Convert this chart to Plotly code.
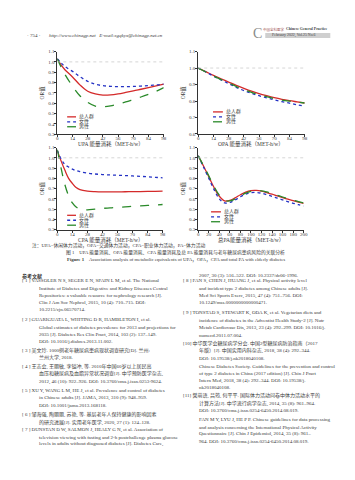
import plotly.graph_objects as go

# ---------------- data ----------------
series_names = ["总人群", "女性", "男性"]
series_colors = ["#d42a2a", "#2432c4", "#2a8a2a"]
series_dash = ["solid", "dot", "dash"]

upa_x = [0, 3.5, 7, 14, 21, 28, 35, 42, 49, 56, 63, 70, 77, 84, 91, 98]
upa_all = [1.03, 0.97, 0.924, 0.854, 0.775, 0.716, 0.69, 0.678, 0.68, 0.69, 0.704, 0.719, 0.735, 0.751, 0.768, 0.785]
upa_female = [1.03, 0.99, 0.956, 0.908, 0.855, 0.812, 0.783, 0.77, 0.763, 0.76, 0.76, 0.762, 0.766, 0.771, 0.777, 0.785]
upa_male = [1.03, 0.95, 0.88, 0.765, 0.67, 0.608, 0.572, 0.566, 0.575, 0.592, 0.612, 0.636, 0.66, 0.686, 0.714, 0.75]

opa_x = [0, 7, 14, 21, 28, 35, 42, 49, 56, 63, 70, 77, 84, 91, 98]
opa_all = [1.0, 0.978, 0.955, 0.935, 0.915, 0.895, 0.877, 0.86, 0.845, 0.832, 0.82, 0.81, 0.802, 0.795, 0.788]
opa_female = [1.0, 0.976, 0.951, 0.928, 0.906, 0.883, 0.863, 0.847, 0.832, 0.819, 0.807, 0.796, 0.787, 0.777, 0.768]
opa_male = [1.0, 0.976, 0.952, 0.93, 0.91, 0.888, 0.868, 0.852, 0.838, 0.826, 0.815, 0.806, 0.799, 0.793, 0.788]

cpa_x = [0, 3.5, 7, 10.5, 14, 17.5, 21, 28, 35, 42, 49, 56, 63, 70, 77, 84, 91, 98]
cpa_all = [1.07, 0.97, 0.88, 0.8, 0.75, 0.71, 0.69, 0.675, 0.67, 0.668, 0.668, 0.668, 0.669, 0.67, 0.671, 0.672, 0.673, 0.675]
cpa_female = [1.07, 0.99, 0.935, 0.91, 0.89, 0.875, 0.865, 0.85, 0.842, 0.837, 0.833, 0.83, 0.827, 0.823, 0.819, 0.815, 0.81, 0.805]
cpa_male = [1.08, 0.9, 0.74, 0.63, 0.56, 0.52, 0.5, 0.493, 0.5, 0.507, 0.512, 0.517, 0.522, 0.527, 0.532, 0.536, 0.54, 0.545]

tpa_x = [0, 10, 20, 30, 40, 50, 60, 70, 80, 90, 100, 110, 120, 130, 140, 150, 160, 170, 180, 190, 200]
tpa_all = [1.02, 0.92, 0.815, 0.71, 0.625, 0.58, 0.585, 0.61, 0.64, 0.665, 0.68, 0.682, 0.675, 0.66, 0.645, 0.628, 0.612, 0.597, 0.582, 0.568, 0.555]
tpa_female = [1.02, 0.91, 0.8, 0.69, 0.6, 0.56, 0.565, 0.59, 0.62, 0.645, 0.66, 0.662, 0.655, 0.64, 0.625, 0.607, 0.59, 0.573, 0.557, 0.543, 0.53]
tpa_male = [1.02, 0.925, 0.825, 0.72, 0.635, 0.585, 0.58, 0.6, 0.628, 0.655, 0.672, 0.68, 0.678, 0.667, 0.652, 0.635, 0.618, 0.602, 0.587, 0.572, 0.56]

x_titles = ["UPA 能量消耗（MET-h/w）", "OPA 能量消耗（MET-h/w）", "CPA 能量消耗（MET-h/w）", "总PA能量消耗（MET-h/w）"]
y_title = "OR值"
x_ticks_98 = [0, 14, 28, 42, 56, 70, 84, 98]
x_ticks_200 = [0, 20, 40, 60, 80, 100, 120, 140, 160, 180, 200]

panels = [
    (upa_x, [upa_all, upa_female, upa_male], x_ticks_98, [0, 98], [0.3, 1.1]),
    (opa_x, [opa_all, opa_female, opa_male], x_ticks_98, [0, 98], [0.6, 1.1]),
    (cpa_x, [cpa_all, cpa_female, cpa_male], x_ticks_98, [0, 98], [0.3, 1.1]),
    (tpa_x, [tpa_all, tpa_female, tpa_male], x_ticks_200, [0, 200], [0.3, 1.1]),
]

header_left = "· 754 ·"
header_url = "http://www.chinagp.net   E-mail:zgqkyx@chinagp.net.cn"
note_text = "注：UPA=休闲体力活动，OPA=交通体力活动，CPA=职业体力活动，PA=体力活动"
caption_cn = "图 1　UPA 能量消耗、OPA 能量消耗、CPA 能量消耗及总 PA 能量消耗与老年糖尿病患病风险的关联分析"
caption_en = "<b>Figure 1</b>　Association analysis of metabolic equivalents of UPA，OPA，CPA and total PA with elderly diabetes"

refs_left = [
    ("<b>参考文献</b>", 20),
    ("[ 1 ] VASSOLER N S, SEGER E N, SPAIN L M, et al. The National", 20),
    ("Institute of Diabetes and Digestive and Kidney Diseases Central", 37),
    ("Repositories: a valuable resource for nephrology research [J].", 37),
    ("Clin J Am Soc Nephrol, 2015, 10 (4): 710–715. DOI:", 37),
    ("10.2215/cjn.06570714.", 37),
    ("[ 2 ] GUARIGUATA L, WHITING D R, HAMBLETON I, et al.", 20),
    ("Global estimates of diabetes prevalence for 2013 and projections for", 37),
    ("2035 [J]. Diabetes Res Clin Pract, 2014, 103 (2): 137–149.", 37),
    ("DOI: 10.1016/j.diabres.2013.11.002.", 37),
    ("[ 3 ] 吴文玲. 1000例老年糖尿病患病现状调查研究[D]. 兰州:", 20),
    ("兰州大学, 2018.", 37),
    ("[ 4 ] 王志会, 王丽敏, 李镒冲, 等. 2010年中国60岁以上居民高", 20),
    ("血压和糖尿病及血脂异常状况调查[J]. 中华预防医学杂志,", 37),
    ("2012, 46 (10): 922–926. DOI: 10.3760/cma.j.issn.0253-9624.", 37),
    ("[ 5 ] XU Y, WANG L M, HE J, et al. Prevalence and control of diabetes", 20),
    ("in Chinese adults [J]. JAMA, 2013, 310 (9): 948–959.", 37),
    ("DOI: 10.1001/jama.2013.168118.", 37),
    ("[ 6 ] 邹海强, 陶丽丽, 苏艳, 等. 基层老年人保持健康的影响因素", 20),
    ("的研究进展[J]. 实用老年医学, 2020, 27 (1): 124–128.", 37),
    ("[ 7 ] DUNSTAN D W, SALMON J, HEALY G N, et al. Association of", 20),
    ("television viewing with fasting and 2-h postchallenge plasma glucose", 37),
    ("levels in adults without diagnosed diabetes [J]. Diabetes Care,", 37),
]
refs_left_y = [277, 282, 289.5, 297, 304, 311, 321, 328.5, 336, 343.5, 352, 359.5,
               368, 375.5, 383.5, 393, 400.5, 408, 417, 424.5, 433, 440, 447]

refs_right = [
    ("2007, 30 (3): 516–522. DOI: 10.2337/dc06-1996.", 200),
    ("[ 8 ] FAN S, CHEN J, HUANG J, et al. Physical activity level", 184),
    ("and incident type 2 diabetes among Chinese adults [J].", 200),
    ("Med Sci Sports Exerc, 2015, 47 (4): 751–756. DOI:", 200),
    ("10.1249/mss.0000000000000471.", 200),
    ("[ 9 ] TONSTAD S, STEWART K, ODA K, et al. Vegetarian diets and", 184),
    ("incidence of diabetes in the Adventist Health Study-2 [J]. Nutr", 200),
    ("Metab Cardiovasc Dis, 2013, 23 (4): 292–299. DOI: 10.1016/j.", 200),
    ("numecd.2011.07.004.", 200),
    ("[10] 中华医学会糖尿病学分会. 中国2型糖尿病防治指南（2017", 184),
    ("年版）[J]. 中国实用内科杂志, 2018, 38 (4): 292–344.", 200),
    ("DOI: 10.19538/j.nk2018040108.", 200),
    ("Chinese Diabetes Society. Guidelines for the prevention and control", 200),
    ("of type 2 diabetes in China (2017 edition) [J]. Chin J Pract", 200),
    ("Intern Med, 2018, 38 (4): 292–344. DOI: 10.19538/j.", 200),
    ("nk2018040108.", 200),
    ("[11] 樊萌语, 吕筠, 何平平. 国际体力活动问卷中体力活动水平的", 184),
    ("计算方法[J]. 中华流行病学杂志, 2014, 35 (8): 961–964.", 200),
    ("DOI: 10.3760/cma.j.issn.0254-6450.2014.08.019.", 200),
    ("FAN M Y, LYU J, HE P P. Chinese guidelines for data processing", 200),
    ("and analysis concerning the International Physical Activity", 200),
    ("Questionnaire [J]. Chin J Epidemiol, 2014, 35 (8): 961–", 200),
    ("964. DOI: 10.3760/cma.j.issn.0254-6450.2014.08.019.", 200),
]
refs_right_y = [277, 282, 289.5, 297, 304, 314, 321.5, 329, 336.5, 345, 352.5, 360,
                368, 375.5, 383, 390, 398, 405.5, 413, 422, 429.5, 437, 444]

# ---------------- layout helpers ----------------
# the page body adds an 8px margin, so the figure is 8px smaller and all
# page-pixel positions below are shifted by that offset
OFF = 8
W, H = 355 - OFF, 480 - OFF
FONT = "Liberation Serif, Noto Sans CJK SC, serif"
TXT = "#3a3a3a"


def px(x):
    return (x - OFF) / W


def py(y):
    return 1 - (y - OFF) / H


# page-pixel boxes of the four plot areas: (left, right, top, bottom)
boxes = [(57, 165, 50, 133.5), (200, 308, 50, 133.3), (57, 164, 147, 230), (200, 307, 147, 230)]
xtitle_y = [143, 143, 240.5, 240.5]
legend_pos = [  # (line x0, line x1, text x, row y's) in page pixels
    (67, 76, 78, [116, 121, 126]),
    (215, 225, 227, [111, 116, 121]),
    (67, 76, 78, [215.5, 220.5, 225.5]),
    (213, 223, 225, [212, 217, 222]),
]

fig = go.Figure()
shapes = []
annotations = []


def add_text(text, x, y, size=5, anchor="left", color=TXT, family=FONT):
    annotations.append(dict(text=text, x=px(x), y=py(y), xref="paper", yref="paper",
                            xanchor=anchor, yanchor="middle", showarrow=False, borderpad=0,
                            font=dict(family=family, size=size, color=color)))


for i, (xs, ys_list, xticks, xr, yr) in enumerate(panels):
    k = "" if i == 0 else str(i + 1)
    for name, ys, col, dash in zip(series_names, ys_list, series_colors, series_dash):
        fig.add_trace(go.Scatter(
            x=xs, y=ys, mode="lines", name=name, showlegend=False,
            line=dict(color=col, width=1.3, dash=dash, shape="spline", smoothing=1.0),
            xaxis="x" + k, yaxis="y" + k,
        ))
    l, r, t, b = boxes[i]
    axis_common = dict(
        showline=True, linecolor="#333", linewidth=0.8, ticks="outside", ticklen=2,
        tickwidth=0.7, tickcolor="#333", showgrid=False, zeroline=False,
        tickfont=dict(family=FONT, size=5, color=TXT),
    )
    fig.layout["xaxis" + k] = dict(
        domain=[px(l), px(r)], range=xr, tickvals=xticks, anchor="y" + k,
        ticklabelstandoff=-3, **axis_common,
    )
    ytickvals = [round(yr[0] + 0.1 * j, 1) for j in range(int(round((yr[1] - yr[0]) / 0.1)) + 1)]
    fig.layout["yaxis" + k] = dict(
        domain=[py(b), py(t)], range=yr, tickvals=ytickvals, tickformat=".1f", anchor="x" + k,
        ticklabelstandoff=-1,
        title=dict(text=y_title, font=dict(family=FONT, size=5.5, color=TXT), standoff=3),
        **axis_common,
    )
    # x-axis title placed just under the tick labels
    add_text(x_titles[i], (l + r) / 2, xtitle_y[i], size=5.5, anchor="center")
    # reference line OR = 1
    shapes.append(dict(type="line", xref=("x" + k) + " domain", yref="y" + k,
                       x0=0, x1=1, y0=1.0, y1=1.0,
                       line=dict(color="#c4c4c4", width=0.7, dash="dot")))
    # compact legend
    lx0, lx1, tx, rows = legend_pos[i]
    for name, col, dash, ry in zip(series_names, series_colors, series_dash, rows):
        shapes.append(dict(type="line", xref="paper", yref="paper",
                           x0=px(lx0), x1=px(lx1), y0=py(ry), y1=py(ry),
                           line=dict(color=col, width=1.3, dash=dash)))
        add_text(name, tx, ry, size=5)

# header
add_text(header_left, 25, 33.5, size=5)
add_text("<i>" + header_url + "</i>", 48, 33.5, size=5)
add_text("C", 255, 32, size=14, color="#8a8a8a")
add_text("中国全科医学", 265, 27.6, size=3.5, color="#a05050")
add_text("<b>Chinese General Practice</b>", 288, 27.6, size=3.8, color="#444")
shapes.append(dict(type="rect", xref="paper", yref="paper", x0=px(268), x1=px(334),
                   y0=py(36.2), y1=py(31.2), fillcolor="#cfcfcf", line=dict(width=0)))
add_text("February 2022, Vol.25 No.6", 274, 33.8, size=3.9, color="#444")

# caption
add_text(note_text, 30, 246.5, size=4.8)
add_text(caption_cn, 177, 253.5, size=4.8, anchor="center")
add_text(caption_en, 177, 260.5, size=4.8, anchor="center")

# references
for (txt, x), y in zip(refs_left, refs_left_y):
    add_text(txt, x, y, size=5)
for (txt, x), y in zip(refs_right, refs_right_y):
    add_text(txt, x, y, size=5)

fig.update_layout(
    width=W, height=H, margin=dict(l=0, r=0, t=0, b=0),
    paper_bgcolor="white", plot_bgcolor="white",
    showlegend=False, shapes=shapes, annotations=annotations,
    font=dict(family=FONT, color=TXT),
)

fig.write_html("out.html")
